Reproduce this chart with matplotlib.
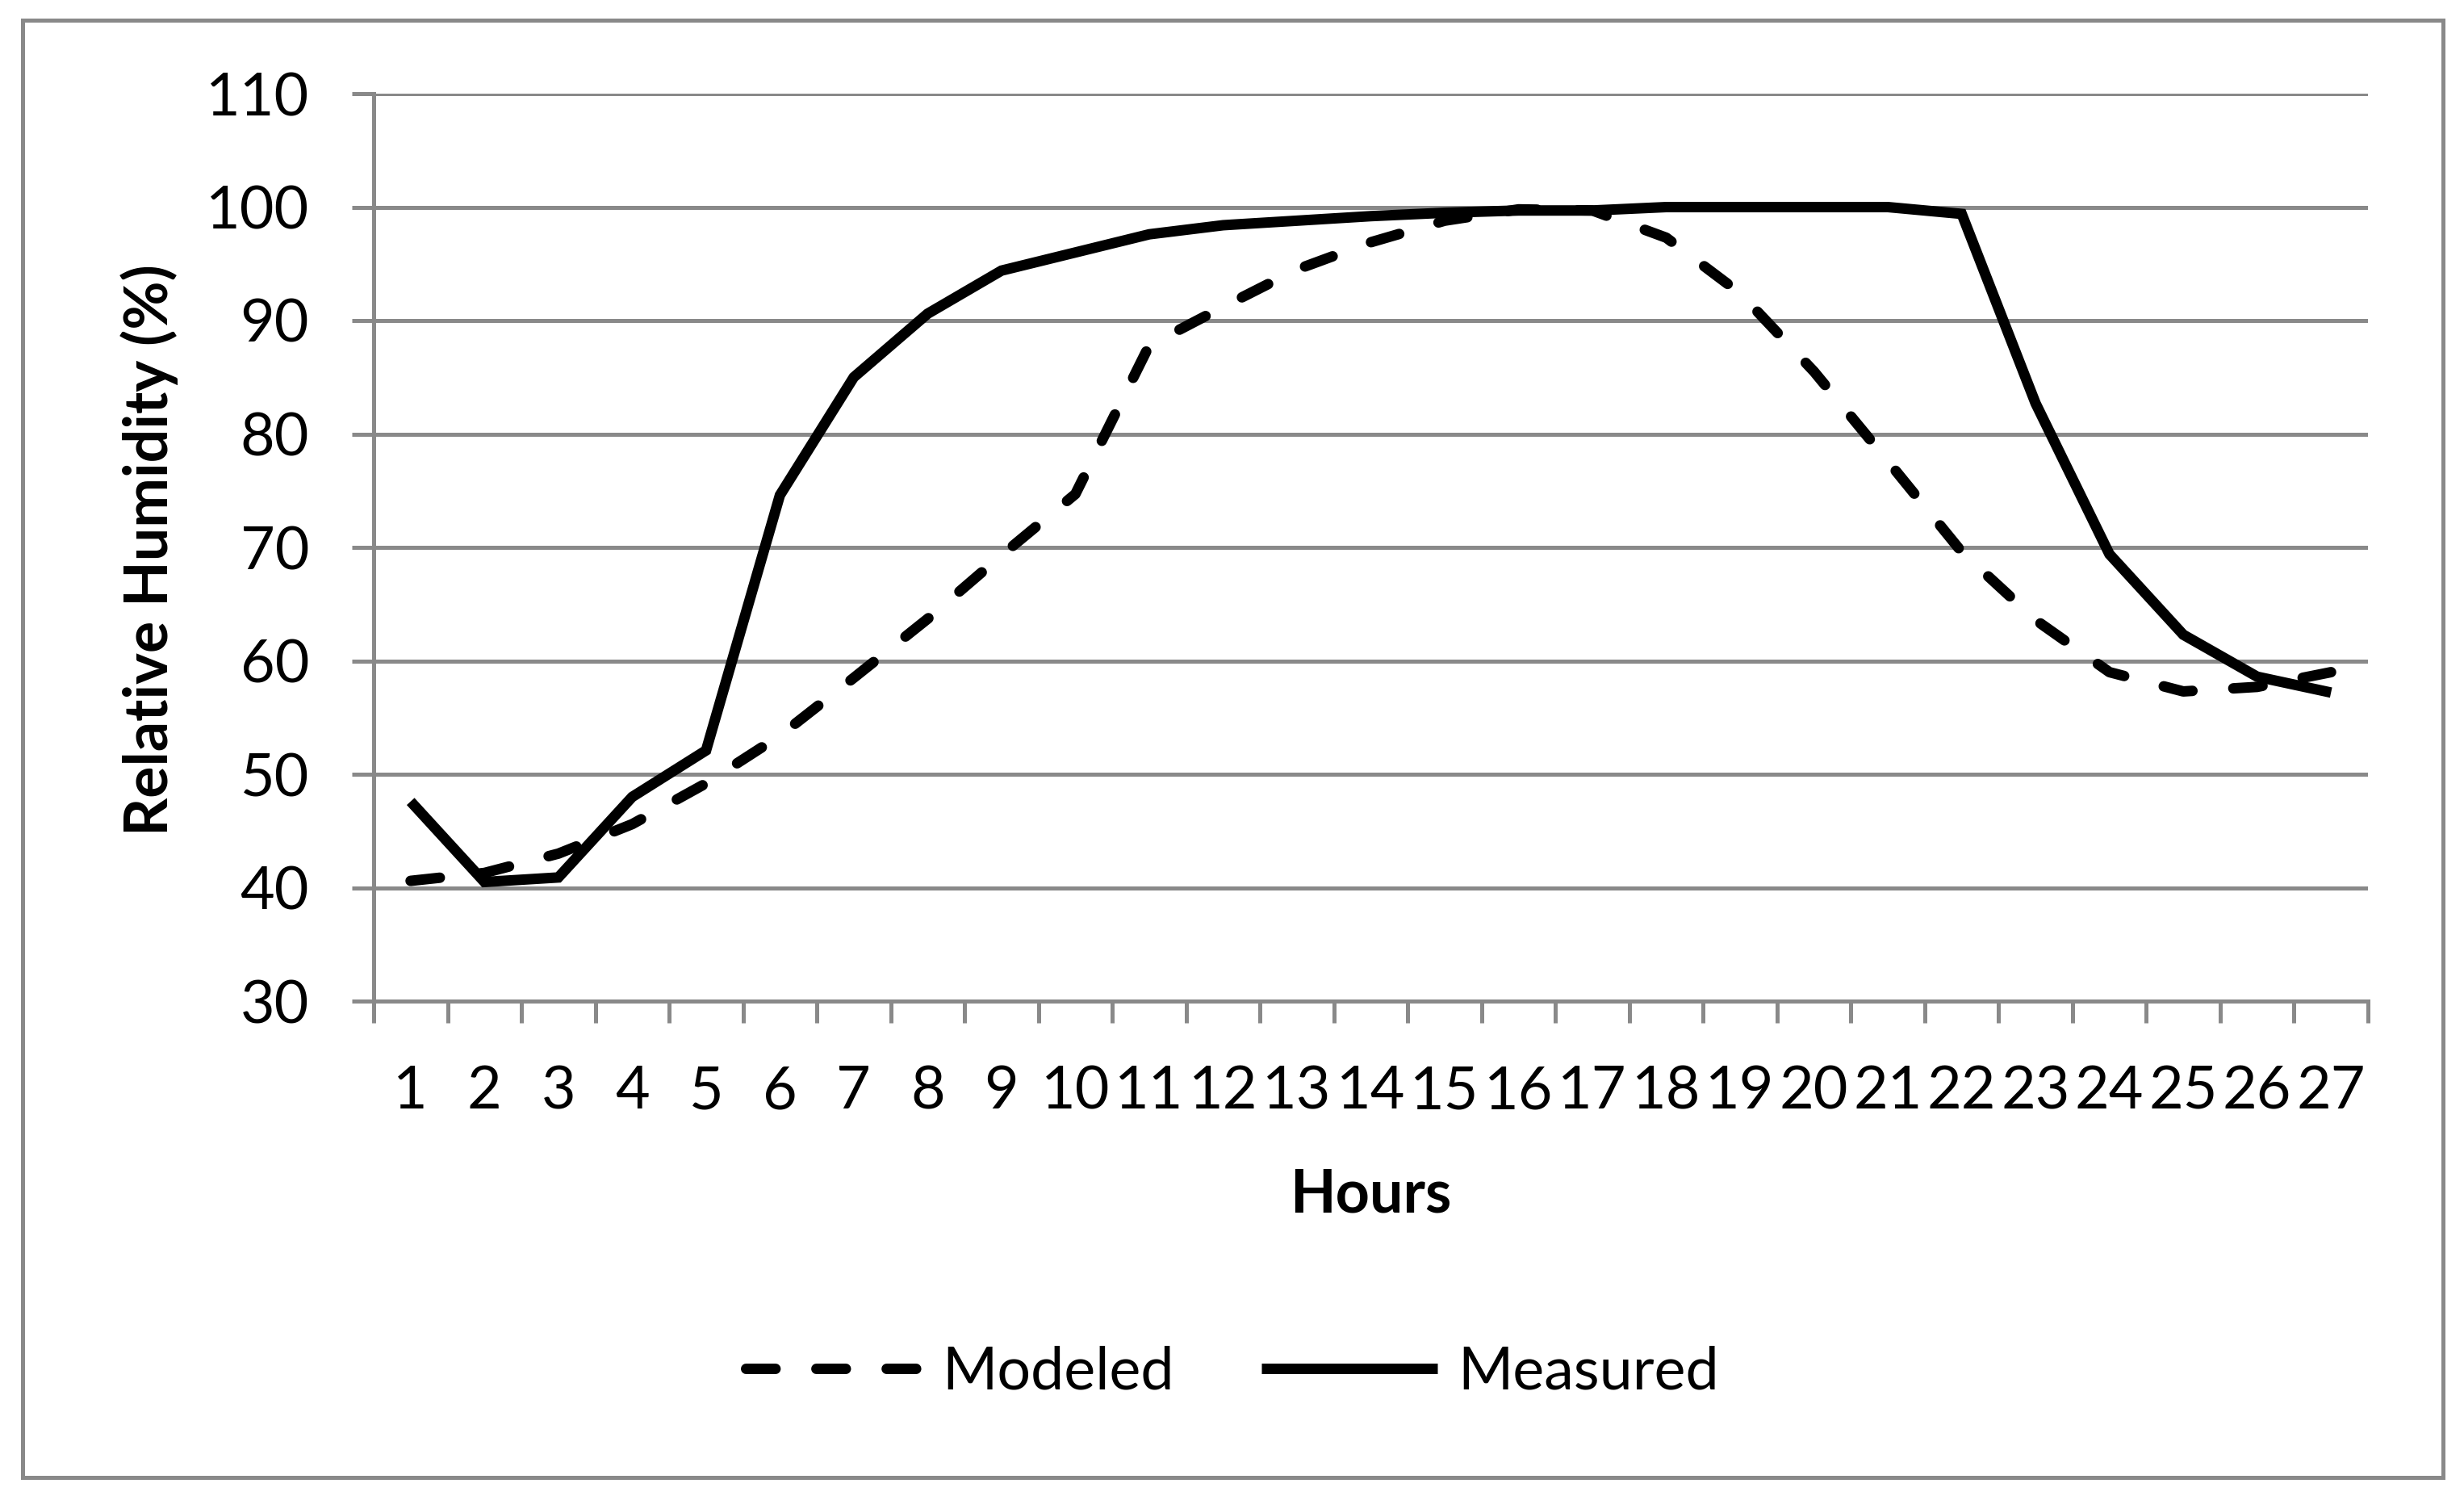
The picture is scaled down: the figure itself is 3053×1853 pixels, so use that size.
import numpy as np
import matplotlib
matplotlib.use("Agg")
import matplotlib.pyplot as plt
from matplotlib.patches import Rectangle

plt.rcParams['font.family'] = ['Lato', 'DejaVu Sans']

hours = list(range(1, 28))
modeled = [40.6, 41.3, 43.0, 45.6, 49.2, 53.4, 58.5, 63.7, 69.3, 74.7,
           87.8, 91.2, 94.5, 96.9, 98.8, 99.8, 99.7, 97.3, 92.4, 85.5,
           77.6, 69.6, 63.6, 59.0, 57.3, 57.7, 59.0]
measured = [47.6, 40.5, 40.9, 48.0, 52.1, 74.6, 85.0, 90.6, 94.4, 96.0,
            97.6, 98.4, 98.8, 99.2, 99.5, 99.7, 99.7, 100.0, 100.0, 100.0,
            100.0, 99.4, 82.7, 69.4, 62.3, 58.6, 57.2]
y_ticks = [30, 40, 50, 60, 70, 80, 90, 100, 110]

W, H = 3053, 1853
gray = '#898989'
fs = 53  # font size in pt (dpi 100)
px = 0.72  # points per pixel at dpi 100

fig = plt.figure(figsize=(W / 100, H / 100), dpi=100)
ax = fig.add_axes([463 / W, 1 - 1240 / H, (2934 - 463) / W, (1240 - 116) / H])

ax.plot(hours, modeled, color='black', lw=13 * px, linestyle=(0, (2.8, 3.9)),
        dash_capstyle='round', solid_joinstyle='round', label='Modeled')
ax.plot(hours, measured, color='black', lw=13 * px, solid_capstyle='butt',
        solid_joinstyle='miter', label='Measured')

ax.set_xlim(0.5, 27.5)
ax.set_ylim(30, 110)
ax.set_yticks(y_ticks)
ax.set_xticks(hours)
ax.set_xticks(np.arange(0.5, 28, 1), minor=True)

ax.grid(axis='y', color=gray, lw=5 * px)
ax.set_axisbelow(True)
for s in ['top', 'right']:
    ax.spines[s].set_visible(False)
for s in ['left', 'bottom']:
    ax.spines[s].set_color(gray)
    ax.spines[s].set_linewidth(5 * px)

ax.tick_params(axis='y', length=27 * px, width=5 * px, color=gray,
               labelsize=fs, pad=53 * px)
ax.tick_params(axis='x', which='major', length=0, labelsize=fs, pad=79 * px)
ax.tick_params(axis='x', which='minor', length=27 * px, width=5 * px, color=gray)

fig.text(185 / W, 1 - 681 / H, 'Relative Humidity (%)', rotation=90,
         ha='center', va='center', fontsize=fs, fontweight='bold')
fig.text(1698 / W, 1 - 1501 / H, 'Hours', ha='center', va='baseline',
         fontsize=fs, fontweight='bold')

fig.legend(loc='center', bbox_to_anchor=(1527 / W, 1 - 1700 / H), ncol=2,
           frameon=False, fontsize=fs, handlelength=2.97, handletextpad=0.34,
           columnspacing=1.46)

fig.patches.append(Rectangle((28 / W, 1 - 1830 / H), (3027 - 28) / W, (1830 - 25) / H,
                             transform=fig.transFigure, fill=False,
                             edgecolor=gray, lw=5 * px))

fig.savefig('out.png', dpi=100, facecolor='white')
